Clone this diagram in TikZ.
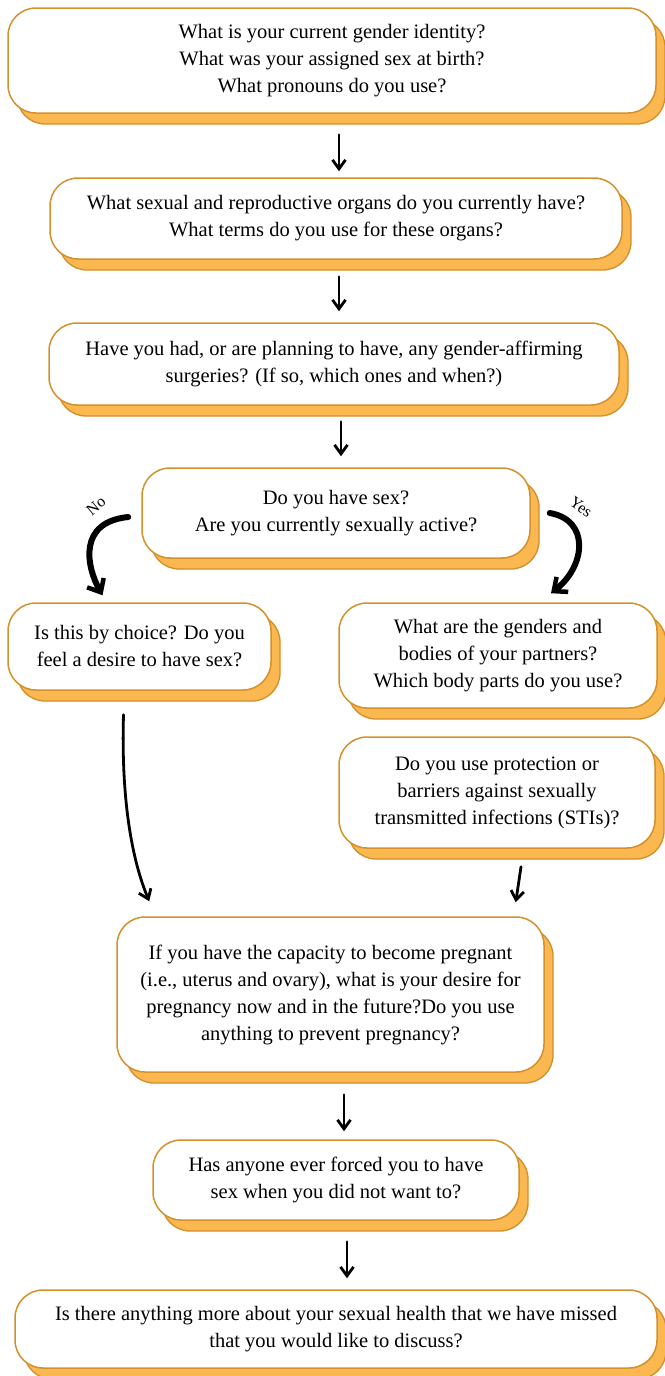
\documentclass[tikz,border=0pt]{standalone}
\usepackage{fontspec}
\setmainfont{Liberation Serif}
\usetikzlibrary{arrows.meta,shadows}
\definecolor{boxline}{HTML}{D4912B}
\definecolor{shadefill}{HTML}{FBB851}
\definecolor{shadeline}{HTML}{D38E2A}
\begin{document}
\begin{tikzpicture}[x=1pt,y=-1pt,
  qbox/.style={draw=boxline, line width=1.5pt, fill=white, rounded corners=28pt,
    align=center, inner sep=0pt, font=\fontsize{20.5}{27}\selectfont,
    copy shadow={shadow xshift=9pt, shadow yshift=-11pt, fill=shadefill, draw=shadeline, line width=1.3pt}},
  flow/.style={line width=2.8pt, line cap=round, -{Straight Barb[length=9pt,width=13pt,line width=2.8pt]}},
  bigflow/.style={line width=6pt, line cap=round, -{Straight Barb[length=11pt,width=19pt,line width=4.5pt]}},
  lab/.style={font=\fontsize{16}{18}\selectfont, inner sep=0pt}
]
\useasboundingbox (0,0) rectangle (664,1376);

\node[qbox, minimum width=648pt, minimum height=105pt] (b1) at (332,60.5)
  {What is your current gender identity?\\What was your assigned sex at birth?\\What pronouns do you use?};
\node[qbox, minimum width=572pt, minimum height=81pt] (b2) at (336,218.5)
  {What sexual and reproductive organs do you currently have?\\What terms do you use for these organs?};
\node[qbox, minimum width=570pt, minimum height=82pt] (b3) at (334,364)
  {Have you had, or are planning to have, any gender-affirming\\surgeries? (If so, which ones and when?)};
\node[qbox, minimum width=388pt, minimum height=90pt] (b4) at (336,513)
  {Do you have sex?\\Are you currently sexually active?};
\node[qbox, minimum width=263pt, minimum height=87pt] (b5) at (139.5,646.5)
  {Is this by choice? Do you\\feel a desire to have sex?};
\node[qbox, minimum width=318pt, minimum height=105pt] (b6) at (498,655.5)
  {What are the genders and\\bodies of your partners?\\Which body parts do you use?};
\node[qbox, minimum width=316pt, minimum height=111pt] (b7) at (497,792.5)
  {Do you use protection or\\barriers against sexually\\transmitted infections (STIs)?};
\node[qbox, minimum width=427pt, minimum height=155pt] (b8) at (330.5,994.5)
  {If you have the capacity to become pregnant\\(i.e., uterus and ovary), what is your desire for\\pregnancy now and in the future?Do you use\\anything to prevent pregnancy?};
\node[qbox, minimum width=366pt, minimum height=80pt] (b9) at (336,1180)
  {Has anyone ever forced you to have\\sex when you did not want to?};
\node[qbox, minimum width=642pt, minimum height=78pt] (b10) at (336,1329)
  {Is there anything more about your sexual health that we have missed\\that you would like to discuss?};

\node[lab, rotate=40] (no) at (96,506) {No};
\node[lab, rotate=-35] (yes) at (581,507) {Yes};

\draw[flow] ([xshift=7pt,yshift=-21pt]b1.south) -- ([xshift=3pt,yshift=6pt]b2.north);
\draw[flow] ([xshift=3pt,yshift=-17pt]b2.south) -- ([xshift=5pt,yshift=11pt]b3.north);
\draw[flow] ([xshift=7pt,yshift=-16pt]b3.south) -- ([xshift=5pt,yshift=11pt]b4.north);
\draw[bigflow] ([xshift=-13pt,yshift=-4pt]b4.west) .. controls (78,522) and (86,566) .. ([xshift=-37pt,yshift=7pt]b5.north);
\draw[bigflow] ([xshift=19pt,yshift=0pt]b4.east) .. controls (590,520) and (586,566) .. ([xshift=53pt,yshift=9pt]b6.north);
\draw[flow] ([xshift=-16pt,yshift=-24pt]b5.south) .. controls (121,800) and (132,860) .. ([xshift=33pt,yshift=15pt]b8.north west);
\draw[flow] ([xshift=24pt,yshift=-18pt]b7.south) -- ([xshift=-29pt,yshift=14pt]b8.north east);
\draw[flow] ([xshift=13.5pt,yshift=-22pt]b8.south) -- ([xshift=8pt,yshift=8pt]b9.north);
\draw[flow] ([xshift=11pt,yshift=-21pt]b9.south) -- ([xshift=11pt,yshift=11pt]b10.north);
\end{tikzpicture}
\end{document}
